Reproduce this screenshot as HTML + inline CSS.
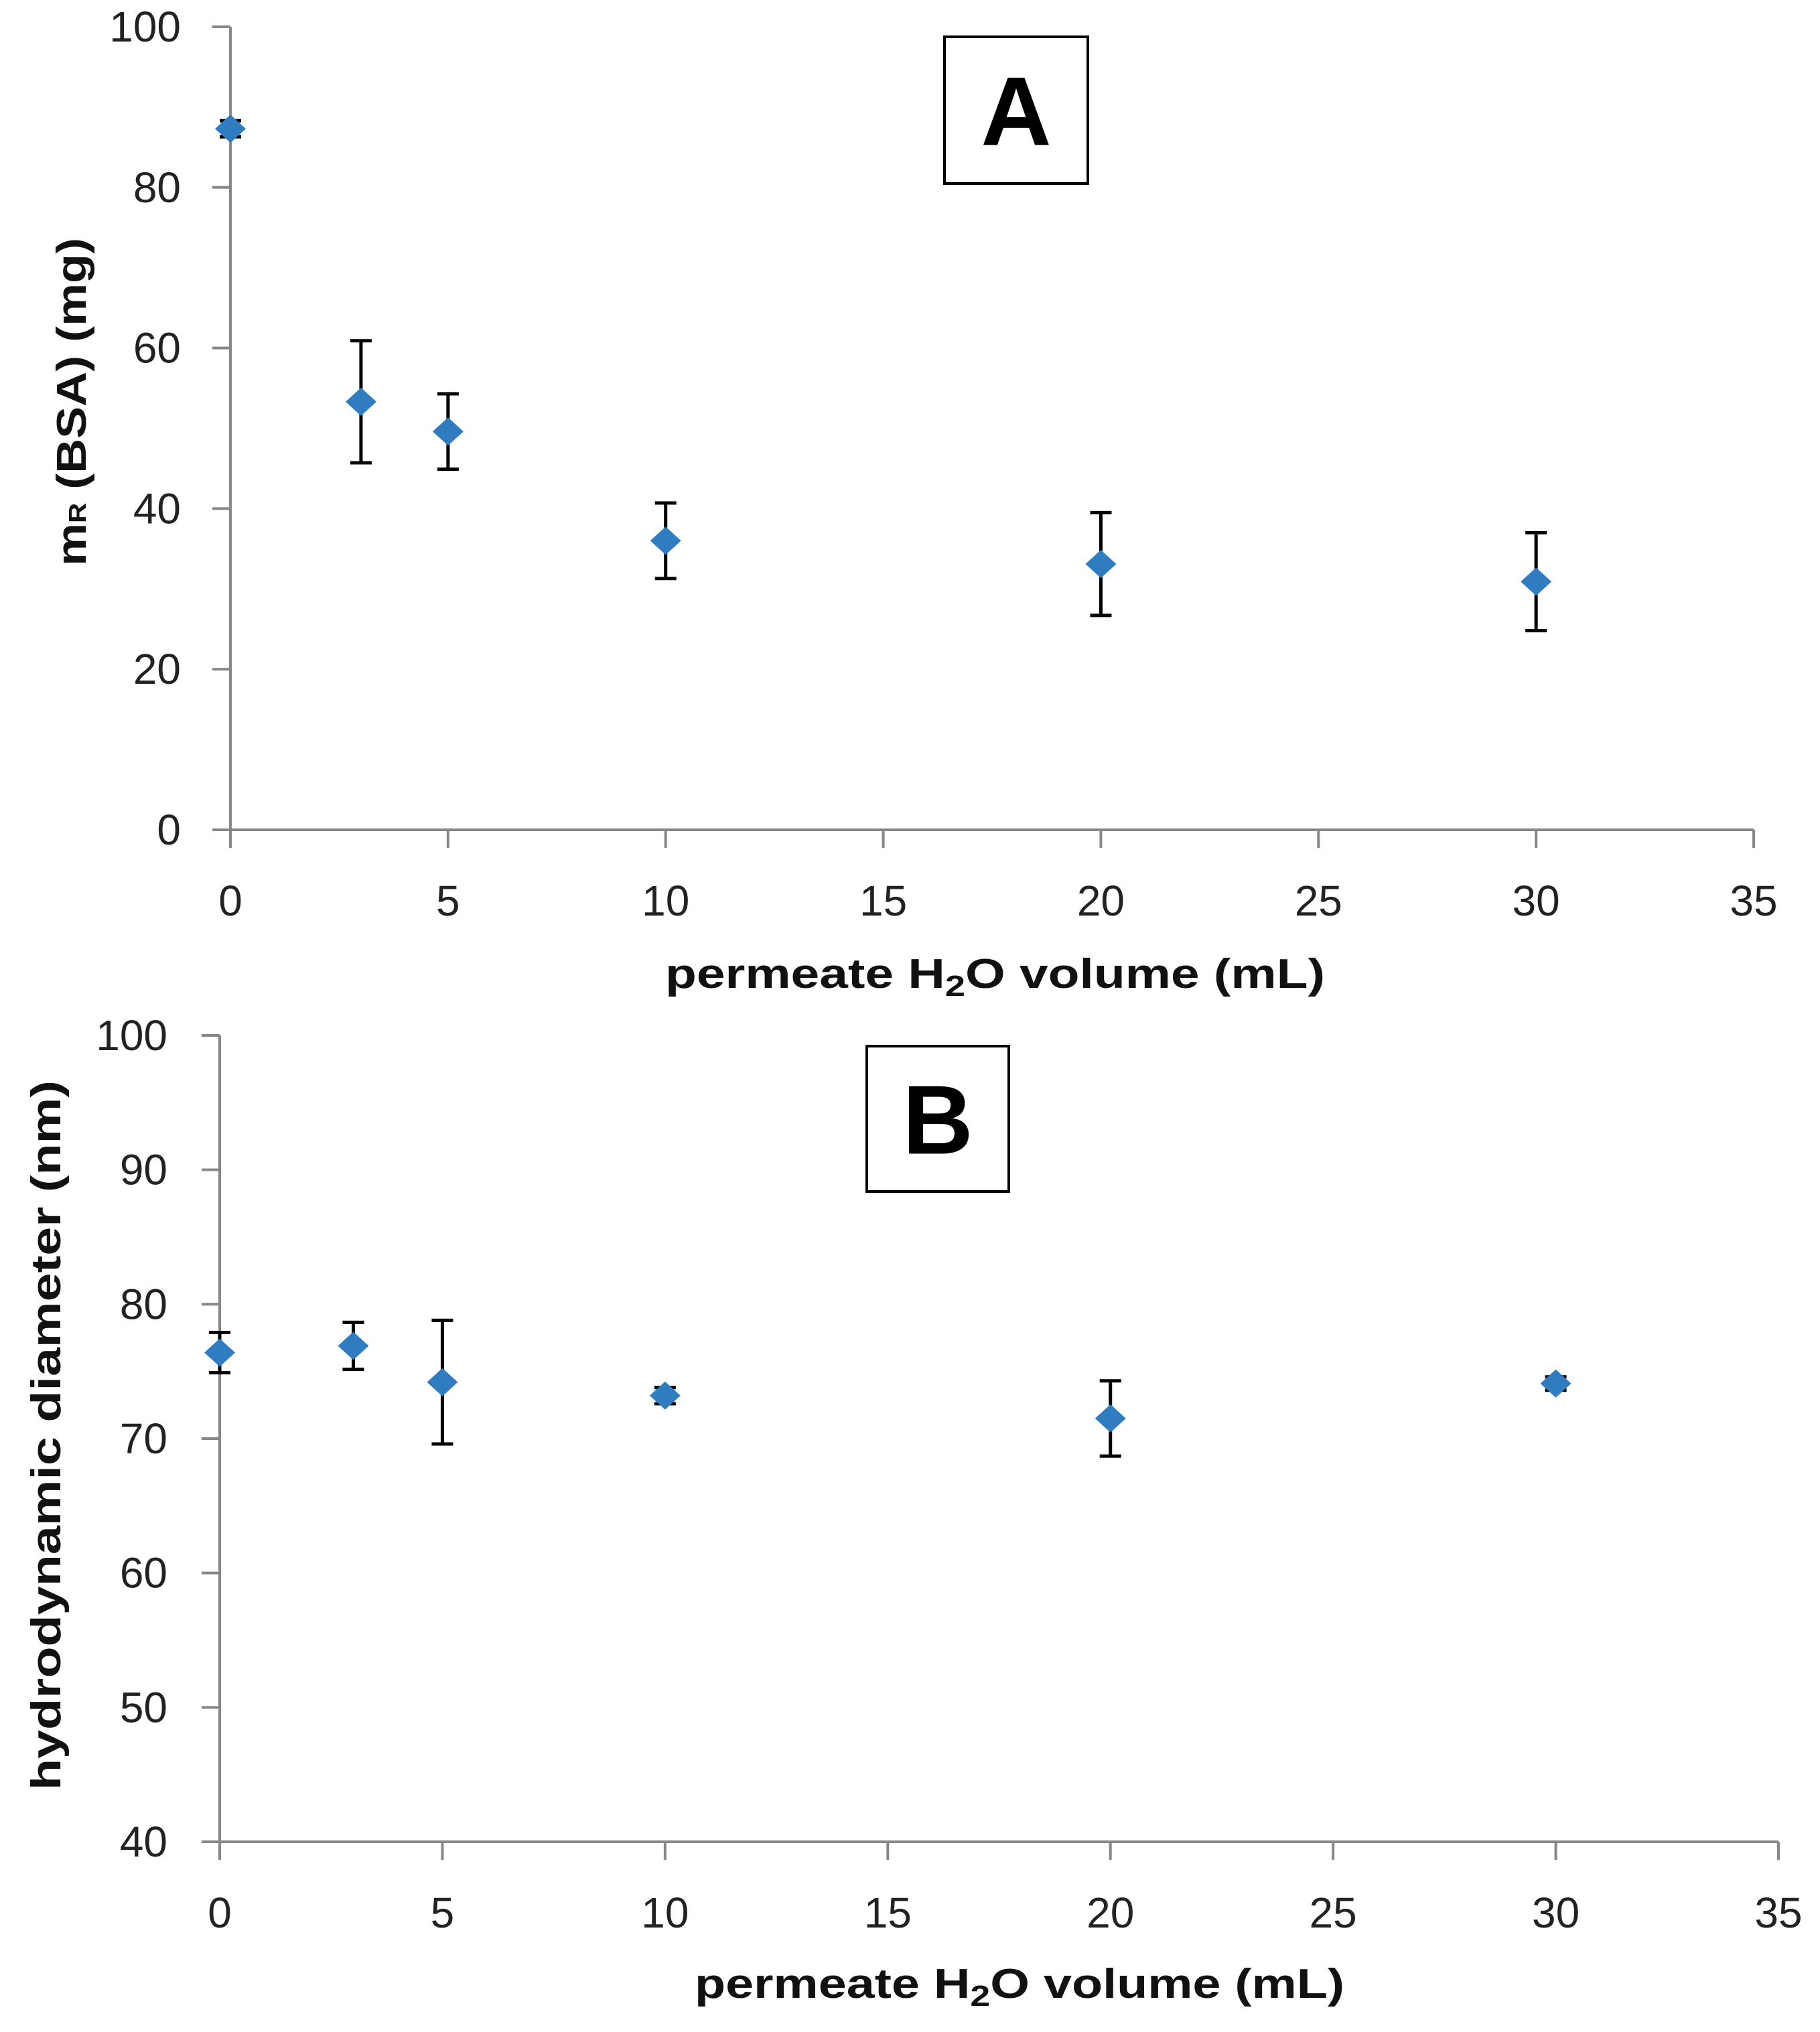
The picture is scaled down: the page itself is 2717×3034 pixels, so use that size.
<!DOCTYPE html>
<html><head><meta charset="utf-8"><style>
html,body{margin:0;padding:0;background:#fff;}
svg{display:block;}
text{font-family:"Liberation Sans",sans-serif;}
</style></head>
<body>
<svg id="chart" width="2717" height="3034" viewBox="0 0 2717 3034" xmlns="http://www.w3.org/2000/svg"></svg>
<script>
// Panel A data
const xValsA = [0, 3, 5, 10, 20, 30];
const yValsA = [87.3, 53.3, 49.6, 36.0, 33.1, 30.9];
const yErrA = [1.0, 7.6, 4.7, 4.7, 6.4, 6.1];
const yTicksA = [0, 20, 40, 60, 80, 100];
// Panel B data
const xValsB = [0, 3, 5, 10, 20, 30];
const yValsB = [76.4, 76.9, 74.2, 73.2, 71.5, 74.1];
const yErrB = [1.5, 1.75, 4.6, 0.6, 2.8, 0.5];
const yTicksB = [40, 50, 60, 70, 80, 90, 100];
const xTicks = [0, 5, 10, 15, 20, 25, 30, 35];

const NS = "http://www.w3.org/2000/svg";
const svg = document.getElementById('chart');
function mk(tag, attrs, parent) {
  const e = document.createElementNS(NS, tag);
  for (const k in attrs) e.setAttribute(k, attrs[k]);
  (parent || svg).appendChild(e);
  return e;
}

function panel(cfg) {
  const g = mk('g', {});
  
  
  const sx = v => cfg.x0 + (v - 0) / 35 * (cfg.x1 - cfg.x0);
  const sy = v => cfg.yb + (v - cfg.ymin) / (cfg.ymax - cfg.ymin) * (cfg.yt - cfg.yb);
  const ya = mk('line', {x1: cfg.x0, y1: sy(cfg.ymax), x2: cfg.x0, y2: cfg.yb, stroke: '#878787', 'stroke-width': 4}, g);
  
  
  const xa = mk('line', {x1: cfg.x0 - 27, y1: cfg.yb, x2: sx(35), y2: cfg.yb, stroke: '#878787', 'stroke-width': 4}, g);
  
  
  cfg.yTicks.forEach(t => {
    const y = sy(t);
    const tk = mk('line', {x1: cfg.x0 - 27, y1: y, x2: cfg.x0, y2: y, stroke: '#878787', 'stroke-width': 4}, g);
    
    
    const lb = mk('text', {x: cfg.ylabX, y: y + 22, 'text-anchor': 'end', 'font-size': 64, fill: '#222'}, g);
    lb.textContent = t;
    
    
  });
  xTicks.forEach(t => {
    const x = sx(t);
    const tk = mk('line', {x1: x, y1: cfg.yb, x2: x, y2: cfg.yb + 27, stroke: '#878787', 'stroke-width': 4}, g);
    
    
    const lb = mk('text', {x: x, y: cfg.xlabY, 'text-anchor': 'middle', 'font-size': 64, fill: '#222'}, g);
    lb.textContent = t;
    
    
  });
  cfg.xs.forEach((xv, i) => {
    const x = sx(xv), y = sy(cfg.ys[i]);
    const top = sy(cfg.ys[i] + cfg.err[i]), bot = sy(cfg.ys[i] - cfg.err[i]);
    const eb = mk('path', {d: `M${x},${top}V${bot}M${x-16},${top}H${x+16}M${x-16},${bot}H${x+16}`, stroke: '#000', 'stroke-width': 5, fill: 'none'}, g);
    
    
    const m = mk('path', {d: `M${x-23},${y}L${x},${y-21}L${x+23},${y}L${x},${y+21}Z`, fill: '#2f7cc0'}, g);
    
    
  });
  const xt = mk('text', {x: cfg.xtX, y: cfg.xtY, 'font-size': 62, 'font-weight': 'bold', fill: '#111', textLength: cfg.xtW, lengthAdjust: 'spacingAndGlyphs'}, g);
  xt.innerHTML = 'permeate H<tspan font-size="44" dy="12">2</tspan><tspan dy="-12">O volume (mL)</tspan>';
  
  
  const yt = mk('text', {x: 0, y: 0, 'font-size': 62, 'font-weight': 'bold', fill: '#111', 'text-anchor': 'middle', textLength: cfg.ytW, lengthAdjust: 'spacingAndGlyphs', transform: `translate(${cfg.ytX},${cfg.ytY}) rotate(-90)`}, g);
  yt.innerHTML = cfg.ytHTML;
  
  
  const bx = mk('rect', {x: cfg.box[0], y: cfg.box[1], width: cfg.box[2], height: cfg.box[3], fill: '#fff', stroke: '#000', 'stroke-width': 4}, g);
  
  
  const bl = mk('text', {x: cfg.box[0] + cfg.box[2] / 2, y: cfg.box[1] + cfg.box[3] / 2 + 52, 'text-anchor': 'middle', 'font-size': 146, 'font-weight': 'bold', fill: '#000'}, g);
  bl.textContent = cfg.label;
  
  
}

panel({name: 'panel-a', x0: 344, x1: 2618, yb: 1239, yt: 40, ymin: 0, ymax: 100,
  yTicks: yTicksA, xs: xValsA, ys: yValsA, err: yErrA, ylabX: 270, xlabY: 1367,
  xtX: 993, xtY: 1475, xtW: 985, ytX: 128, ytY: 600, ytW: 490,
  ytHTML: 'm<tspan font-size="36" dy="0">R</tspan> (BSA) (mg)',
  box: [1410, 55, 214, 219], label: 'A'});
panel({name: 'panel-b', x0: 328, x1: 2655, yb: 2750, yt: 1546, ymin: 40, ymax: 100,
  yTicks: yTicksB, xs: xValsB, ys: yValsB, err: yErrB, ylabX: 250, xlabY: 2878,
  xtX: 1037, xtY: 2983, xtW: 970, ytX: 90, ytY: 2143, ytW: 1060,
  ytHTML: 'hydrodynamic diameter  (nm)',
  box: [1294, 1562, 212, 217], label: 'B'});
</script>
</body></html>
